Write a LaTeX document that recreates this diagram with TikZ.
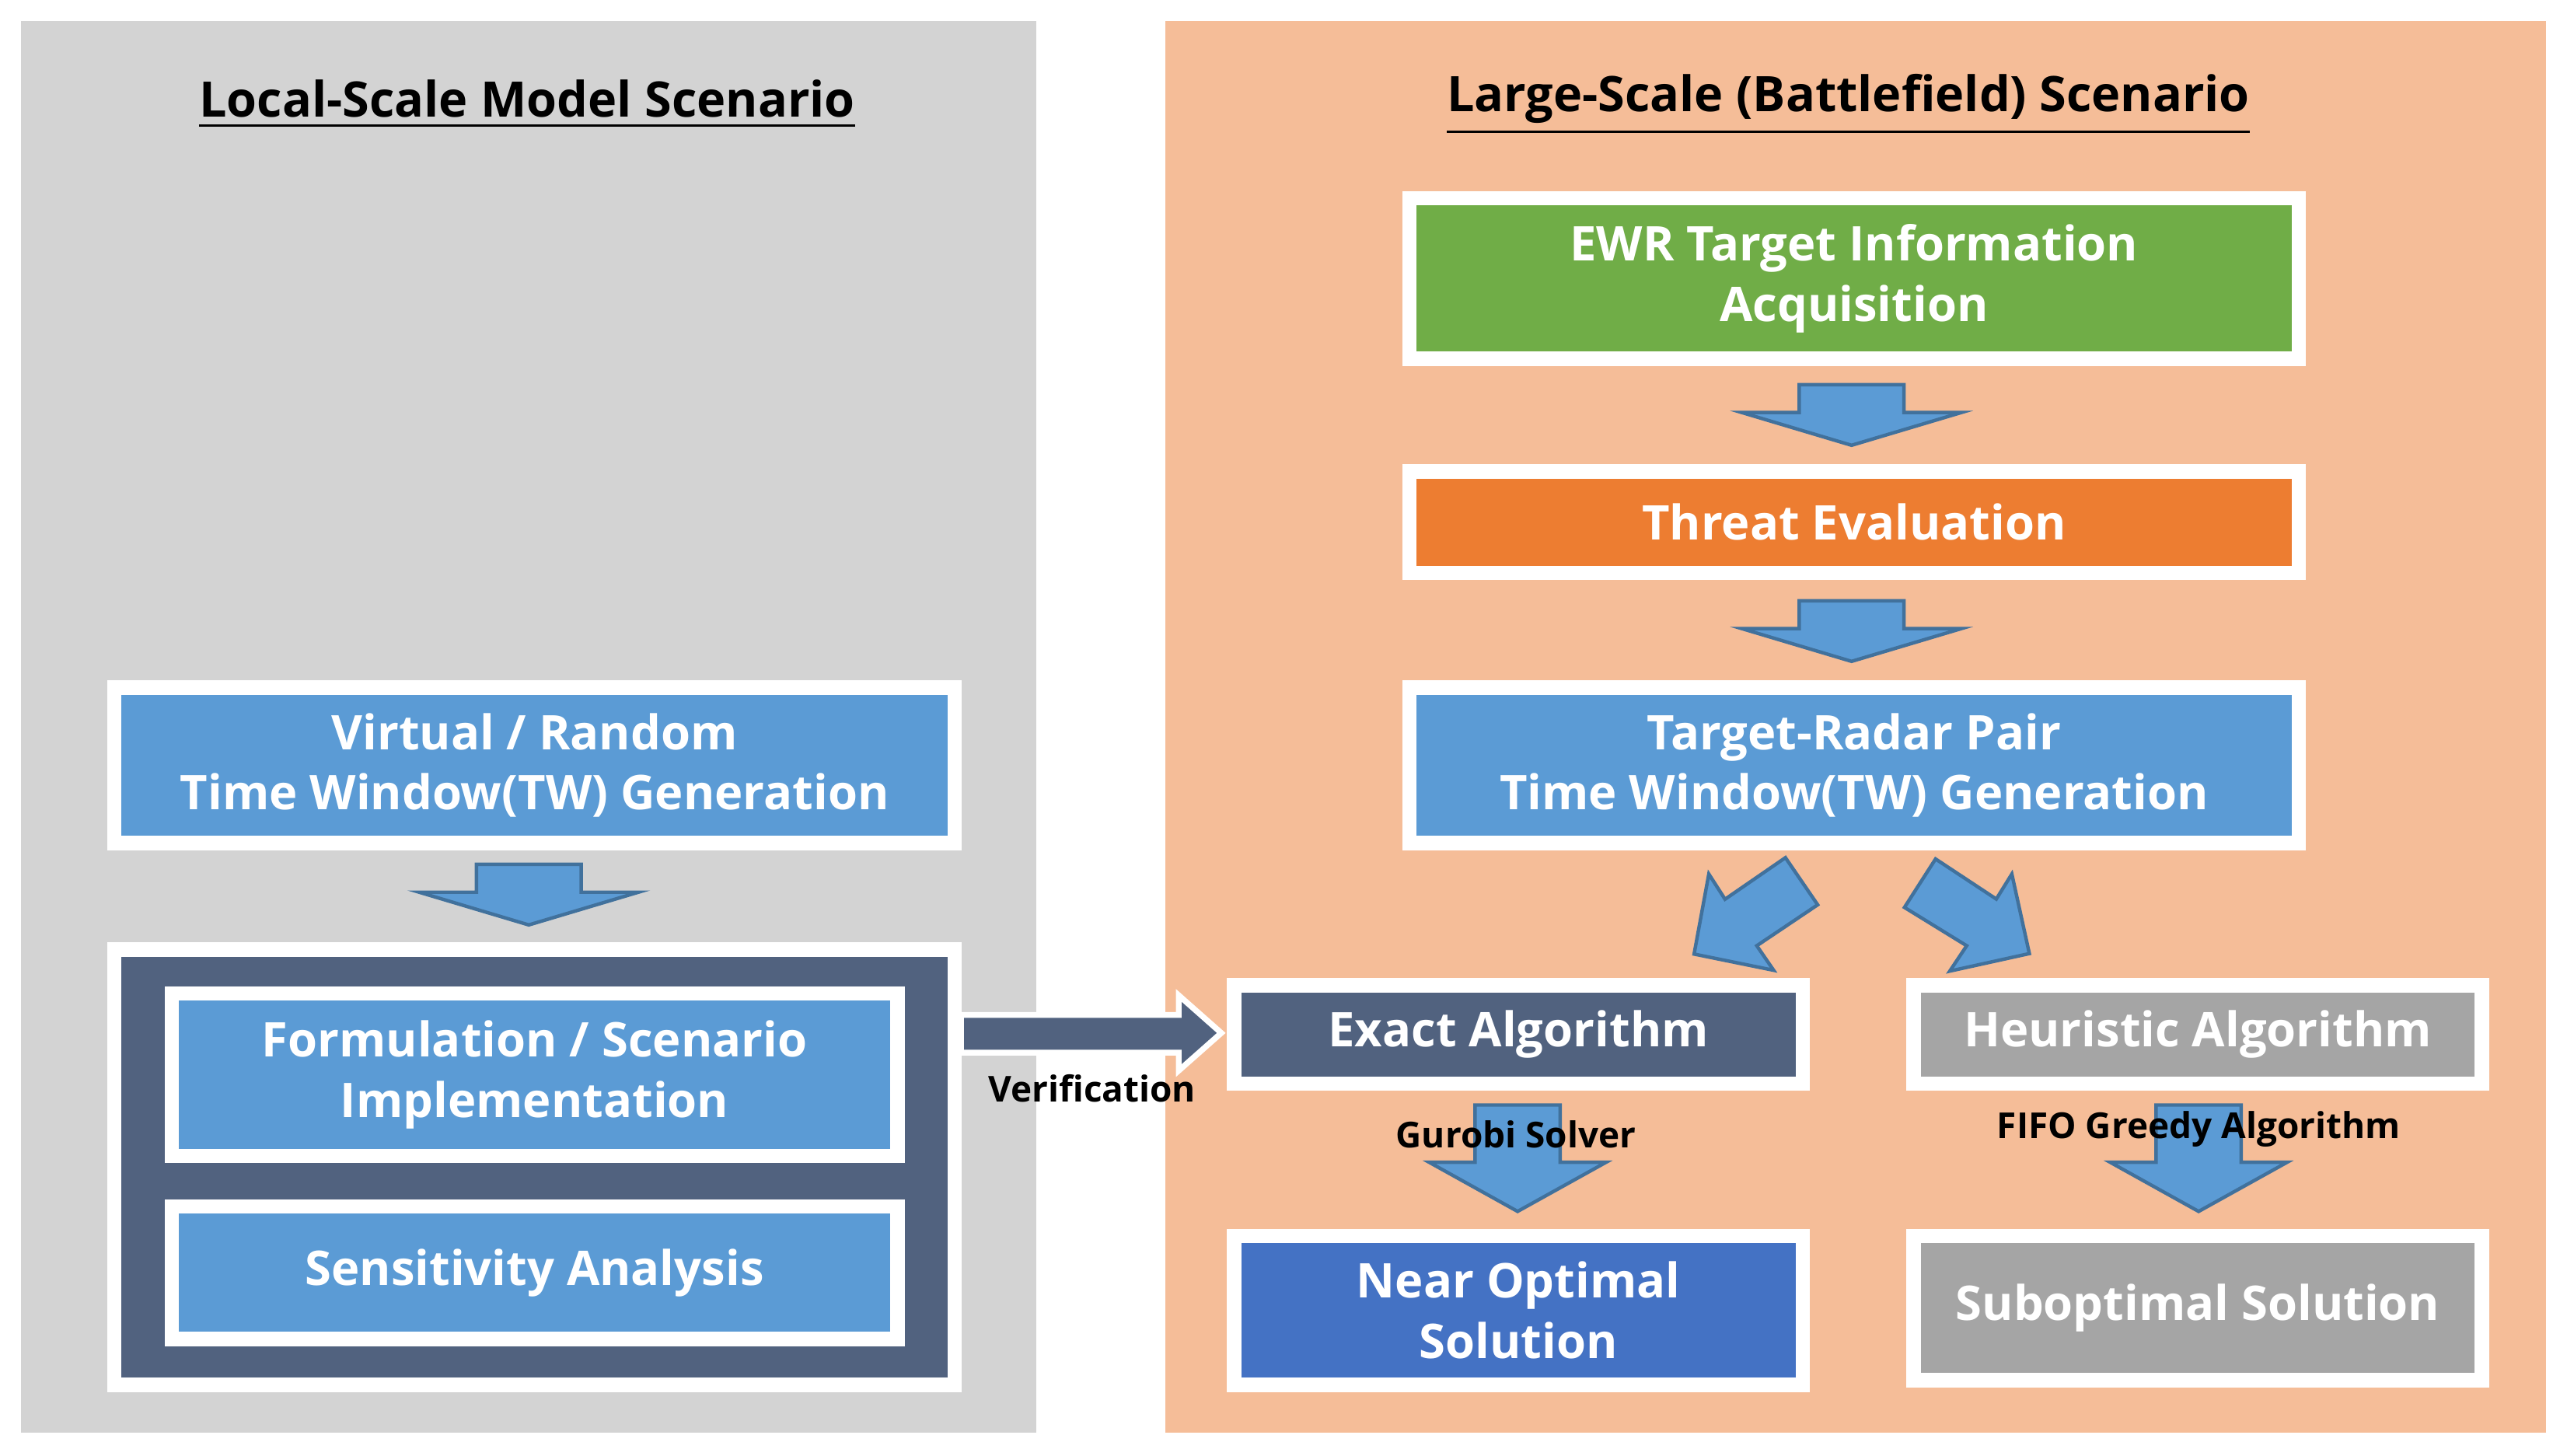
\documentclass[tikz,border=0pt]{standalone}
\usepackage{fontspec}
\setmainfont{Open Sans}
\begin{document}
\begin{tikzpicture}[x=0.01cm,y=-0.01cm,
 box/.style={draw=white,line width=2.5pt,text=white,font=\fontsize{8.3}{10.5}\selectfont\bfseries,align=center,inner sep=0pt},
 barrow/.style={fill=arrblue,draw=arrline,line width=0.6pt,line join=miter},
 lbl/.style={font=\fontsize{6.2}{7}\selectfont\bfseries,text=black},
 ttl/.style={font=\fontsize{8.5}{10}\selectfont\bfseries,text=black}]
\definecolor{panelgray}{HTML}{D3D3D3}
\definecolor{panelpeach}{HTML}{F5BD98}
\definecolor{bgreen}{HTML}{70AD47}
\definecolor{borange}{HTML}{ED7D31}
\definecolor{bblue}{HTML}{5B9BD5}
\definecolor{bslate}{HTML}{51627F}
\definecolor{bgray}{HTML}{A5A5A5}
\definecolor{bdblue}{HTML}{4472C4}
\definecolor{arrblue}{HTML}{5B9BD5}
\definecolor{arrline}{HTML}{41719C}
\useasboundingbox (0,0) rectangle (1568,889.4);
\fill[white] (0,0) rectangle (1568,889.4);
\fill[panelgray] (13,13) rectangle (633,875);
\fill[panelpeach] (712,13) rectangle (1555,875);
\node[ttl] (tl) at (322,64) {\underline{Local-Scale Model Scenario}};
\node[ttl] (tr) at (1129,64) {\underline{Large-Scale (Battlefield) Scenario}};
% right column
\node[box,fill=bgreen,minimum width=5.43cm,minimum height=0.98cm] (ewr) at (1132.5,170) {EWR Target Information\\Acquisition};
\node[box,fill=borange,minimum width=5.43cm,minimum height=0.62cm] (thr) at (1132.5,319) {Threat Evaluation};
\node[box,fill=bblue,minimum width=5.43cm,minimum height=0.95cm] (trp) at (1132.5,467.5) {Target-Radar Pair\\Time Window(TW) Generation};
\node[box,fill=bslate,minimum width=3.47cm,minimum height=0.60cm] (ex) at (927.5,632) {Exact Algorithm};
\node[box,fill=bgray,minimum width=3.47cm,minimum height=0.60cm] (he) at (1342.5,632) {Heuristic Algorithm};
\node[box,fill=bdblue,minimum width=3.47cm,minimum height=0.91cm] (no) at (927.5,800.5) {Near Optimal\\Solution};
\node[box,fill=bgray,minimum width=3.47cm,minimum height=0.88cm] (so) at (1342.5,799) {Suboptimal Solution};
% left column
\node[box,fill=bblue,minimum width=5.13cm,minimum height=0.95cm] (vr) at (326.5,467.5) {Virtual / Random\\Time Window(TW) Generation};
\node[box,fill=bslate,minimum width=5.13cm,minimum height=2.66cm] (dk) at (326.5,713) {};
\node[box,fill=bblue,minimum width=4.43cm,minimum height=0.99cm] (fo) at (326.5,656.5) {Formulation / Scenario\\Implementation};
\node[box,fill=bblue,minimum width=4.43cm,minimum height=0.81cm] (se) at (326.5,777.5) {Sensitivity Analysis};
% down block arrows
\foreach \cx/\ty in {1131/235,1131/367,323/528}{
 \draw[barrow] (\cx-32,\ty) -- (\cx+32,\ty) -- (\cx+32,\ty+17) -- (\cx+67,\ty+17) -- (\cx,\ty+37) -- (\cx-67,\ty+17) -- (\cx-32,\ty+17) -- cycle;}
\foreach \cx in {927,1343}{
 \draw[barrow] (\cx-26,675) -- (\cx+26,675) -- (\cx+26,710) -- (\cx+54,710) -- (\cx,740) -- (\cx-54,710) -- (\cx-26,710) -- cycle;}
% diagonal arrows
\draw[barrow] (1090.6,523.9) -- (1110.3,552.7) -- (1073.1,577.7) -- (1083.4,592.7) -- (1034.8,582.8) -- (1043.8,533.9) -- (1053.7,549.3) -- cycle;
\draw[barrow] (1182.3,524.7) -- (1219.4,549.2) -- (1228.9,533.9) -- (1239.6,582.5) -- (1191,593.2) -- (1201.3,577.7) -- (1163.3,554.3) -- cycle;
% verification arrow
\draw[fill=bslate,draw=white,line width=1pt,line join=miter] (587,620) -- (720,620) -- (720,608) -- (746,631) -- (720,654) -- (720,643) -- (587,643) -- cycle;
\node[lbl] (ver) at (667,665) {Verification};
\node[lbl] (gu) at (926,693) {Gurobi Solver};
\node[lbl] (ff) at (1343,690) {FIFO Greedy Algorithm};
\end{tikzpicture}
\end{document}
